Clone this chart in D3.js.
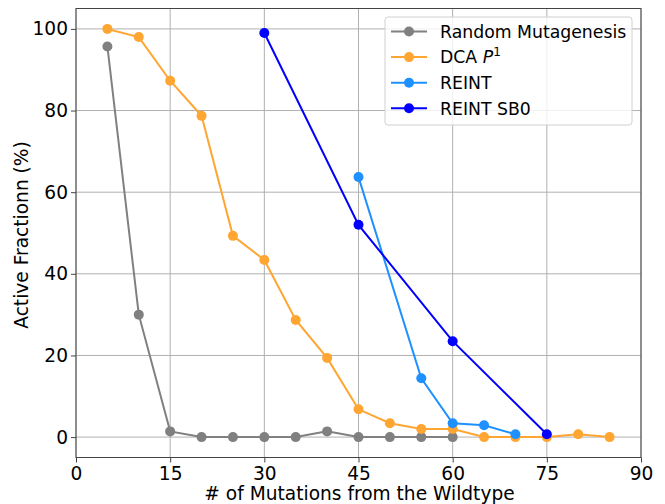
<!DOCTYPE html>
<html>
<head>
<meta charset="utf-8">
<script src="https://cdn.jsdelivr.net/npm/d3@7"></script>
<style>
  html, body { margin: 0; padding: 0; background: #fff; }
  svg { display: block; font-family: "DejaVu Sans", sans-serif; }
</style>
</head>
<body>
<svg id="chart" width="665" height="504"></svg>
<script>
// Mutation counts sampled for each method
const randomX = [5, 10, 15, 20, 25, 30, 35, 40, 45, 50, 55, 60];
const randomY = [95.7, 30.0, 1.4, 0, 0, 0, 0, 1.4, 0, 0, 0, 0];

const dcaX = [5, 10, 15, 20, 25, 30, 35, 40, 45, 50, 55, 60, 65, 70, 75, 80, 85];
const dcaY = [100, 98.0, 87.3, 78.7, 49.3, 43.4, 28.7, 19.4, 6.8, 3.4, 2.0, 2.0, 0, 0, 0, 0.7, 0];

const reintX = [45, 55, 60, 65, 70];
const reintY = [63.7, 14.4, 3.4, 2.9, 0.7];

const sb0X = [30, 45, 60, 75];
const sb0Y = [99.0, 52.0, 23.5, 0.7];

const xTicks = [0, 15, 30, 45, 60, 75, 90];
const yTicks = [0, 20, 40, 60, 80, 100];

const series = [
  { name: "Random Mutagenesis", x: randomX, y: randomY, color: "#808080" },
  { name: "DCA", sup: true, x: dcaX, y: dcaY, color: "#ffa532" },
  { name: "REINT", x: reintX, y: reintY, color: "#1e90ff" },
  { name: "REINT SB0", x: sb0X, y: sb0Y, color: "#0000ff" }
];

const svg = d3.select("#chart");
const plotL = 76, plotR = 641, plotT = 8.5, plotB = 457.5;
const tickFont = 18.6, labelFont = 18.6, legendFont = 17.3;

const x = d3.scaleLinear().domain([0, 90]).range([plotL, plotR]);
const y = d3.scaleLinear().domain([-5, 105]).range([plotB, plotT]);

// Grid
const grid = svg.append("g");
grid.selectAll("line.gx").data(xTicks).join("line").attr("class", "gx")
  .attr("x1", d => x(d)).attr("x2", d => x(d))
  .attr("y1", plotT).attr("y2", plotB)
  .attr("stroke", "#b0b0b0").attr("stroke-width", 1);
grid.selectAll("line.gy").data(yTicks).join("line").attr("class", "gy")
  .attr("x1", plotL).attr("x2", plotR)
  .attr("y1", d => y(d)).attr("y2", d => y(d))
  .attr("stroke", "#b0b0b0").attr("stroke-width", 1);

// Series lines and markers
const line = d3.line().x(d => x(d[0])).y(d => y(d[1]));
series.forEach(s => {
  const pts = s.x.map((v, i) => [v, s.y[i]]);
  const g = svg.append("g");
  g.append("path").datum(pts).attr("d", line)
    .attr("fill", "none").attr("stroke", s.color).attr("stroke-width", 2);
  g.selectAll("circle").data(pts).join("circle")
    .attr("cx", d => x(d[0])).attr("cy", d => y(d[1])).attr("r", 5)
    .attr("fill", s.color);
});

// Axes
const xAxis = svg.append("g").attr("transform", `translate(0,${plotB})`)
  .call(d3.axisBottom(x).tickValues(xTicks).tickSize(5).tickPadding(4));
const yAxis = svg.append("g").attr("transform", `translate(${plotL},0)`)
  .call(d3.axisLeft(y).tickValues(yTicks).tickSize(5).tickPadding(3));
[xAxis, yAxis].forEach(a => {
  a.selectAll("text").attr("font-size", tickFont).attr("fill", "#000")
    .attr("font-family", "DejaVu Sans, sans-serif");
  a.selectAll(".tick line").attr("stroke", "#444");
  a.select(".domain").remove();
});

// Frame
svg.append("rect").attr("x", plotL).attr("y", plotT)
  .attr("width", plotR - plotL).attr("height", plotB - plotT)
  .attr("fill", "none").attr("stroke", "#444").attr("stroke-width", 1);

// Axis titles
svg.append("text").attr("x", (plotL + plotR) / 2 + 1).attr("y", 499.5)
  .attr("text-anchor", "middle").attr("font-size", labelFont)
  .text("# of Mutations from the Wildtype");
svg.append("text")
  .attr("transform", `translate(28,${(plotT + plotB) / 2 + 2}) rotate(-90)`)
  .attr("text-anchor", "middle").attr("font-size", labelFont)
  .text("Active Fractionn (%)");

// Legend
const lg = svg.append("g");
lg.append("rect").attr("x", 385).attr("y", 17).attr("width", 247).attr("height", 108)
  .attr("rx", 3).attr("fill", "#fff").attr("fill-opacity", 0.8)
  .attr("stroke", "#d0d0d0").attr("stroke-width", 1);
series.forEach((s, i) => {
  const cy = 31.5 + i * 25.6;
  lg.append("line").attr("x1", 391).attr("x2", 427).attr("y1", cy).attr("y2", cy)
    .attr("stroke", s.color).attr("stroke-width", 2);
  lg.append("circle").attr("cx", 409).attr("cy", cy).attr("r", 5).attr("fill", s.color);
  const t = lg.append("text").attr("x", 440).attr("y", cy + 6.3).attr("font-size", legendFont);
  t.append("tspan").text(s.name);
  if (s.sup) {
    t.append("tspan").attr("font-style", "italic").text(" P");
    t.append("tspan").attr("font-size", 12).attr("dy", -7.5).text("1");
  }
});
</script>
</body>
</html>
